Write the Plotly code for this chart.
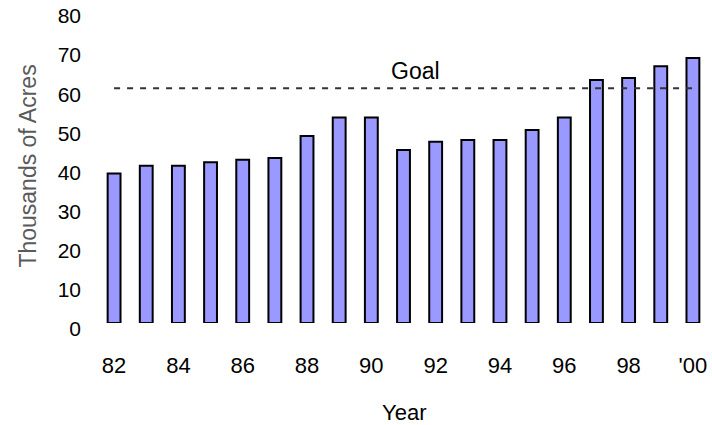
import plotly.graph_objects as go

years = ["82", "83", "84", "85", "86", "87", "88", "89", "90", "91",
         "92", "93", "94", "95", "96", "97", "98", "99", "'00"]
acres = [38.2, 40.2, 40.2, 41.1, 41.7, 42.2, 47.8, 52.5, 52.5, 44.2,
         46.3, 46.8, 46.8, 49.3, 52.5, 62.1, 62.6, 65.6, 67.7]
goal = 60
tick_years = ["82", "84", "86", "88", "90", "92", "94", "96", "98", "'00"]
y_ticks = [0, 10, 20, 30, 40, 50, 60, 70, 80]

FONT = "Liberation Sans, Arial, sans-serif"

fig = go.Figure()
fig.add_trace(go.Bar(
    x=years, y=acres, width=0.4,
    marker=dict(color="#9999FF", line=dict(color="black", width=2)),
    showlegend=False, hoverinfo="skip",
))
fig.add_trace(go.Scatter(
    x=[years[0], years[-1]], y=[goal, goal], mode="lines",
    line=dict(color="#333333", width=2, dash="6px,7px"),
    showlegend=False, hoverinfo="skip",
))
fig.add_annotation(x=9.38, y=64.3, text="Goal", showarrow=False,
                   font=dict(family=FONT, size=23, color="black"),
                   xanchor="center", yanchor="middle")
fig.add_annotation(xref="paper", yref="paper", x=0.5, y=-0.287, text="Year",
                   showarrow=False, font=dict(family=FONT, size=22, color="black"),
                   xanchor="center", yanchor="middle")
fig.add_annotation(xref="paper", yref="paper", x=-0.116, y=0.5,
                   xanchor="center", yanchor="middle",
                   text="Thousands of Acres", textangle=-90, showarrow=False,
                   font=dict(family=FONT, size=23, color="#5a5a5a"))

fig.update_layout(
    width=712, height=425,
    margin=dict(l=98, r=3, t=10, b=102),
    plot_bgcolor="white", paper_bgcolor="white",
    font=dict(family=FONT, color="black"),
    bargap=0.6,
)
fig.update_xaxes(
    type="category", range=[-0.5, 18.5],
    tickmode="array", tickvals=tick_years, ticktext=tick_years,
    showgrid=False, showline=False, zeroline=False, ticks="",
    tickfont=dict(family=FONT, size=22, color="black"),
    ticklabelstandoff=27,
)
fig.update_yaxes(
    range=[0, 80], tickvals=y_ticks, showgrid=False, zeroline=False,
    showline=False, ticks="",
    tickfont=dict(family=FONT, size=21, color="black"),
    ticklabelstandoff=16, ticklabelshift=6,
)

fig.write_html("out.html", config={"displayModeBar": False},
               post_script="document.body.style.margin='0';document.body.style.overflow='hidden';")
